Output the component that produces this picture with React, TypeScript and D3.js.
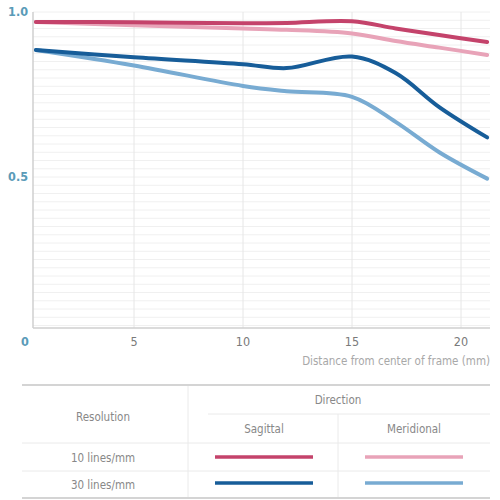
import React from "react";
import * as d3 from "d3";

// distance from center of frame (mm)
const distances = [0.5, 5, 10, 12, 15, 17, 19, 21.2];
// MTF values per series
const sagittal10 = [0.97, 0.969, 0.966, 0.967, 0.972, 0.95, 0.93, 0.909];
const meridional10 = [0.97, 0.96, 0.95, 0.946, 0.935, 0.912, 0.892, 0.87];
const sagittal30 = [0.885, 0.863, 0.842, 0.83, 0.865, 0.815, 0.712, 0.62];
const meridional30 = [0.885, 0.838, 0.776, 0.76, 0.743, 0.667, 0.575, 0.495];

const xTicks = [5, 10, 15, 20];
const yTicks = [1.0, 0.5];
const rowLabels = ["10 lines/mm", "30 lines/mm"];
const colLabels = ["Sagittal", "Meridional"];

const colors = {
  s10: "#c4436b",
  m10: "#e8a3b8",
  s30: "#175d99",
  m30: "#78abd2",
};

const series = [
  { key: "m10", values: meridional10, color: colors.m10 },
  { key: "s10", values: sagittal10, color: colors.s10 },
  { key: "m30", values: meridional30, color: colors.m30 },
  { key: "s30", values: sagittal30, color: colors.s30 },
];

const font = "'DejaVu Sans Condensed', 'Liberation Sans Narrow', sans-serif";

export default function App() {
  const plotLeft = 33;
  const plotRight = 490;
  const plotTop = 12;
  const plotBottom = 328;

  const x = d3.scaleLinear().domain([0, 21.33]).range([25, 490]);
  const y = d3.scaleLinear().domain([0, 1]).range([342, 12]);

  const line = d3
    .line<number>()
    .x((_, i) => x(distances[i]))
    .y((d) => y(d))
    .curve(d3.curveCatmullRom.alpha(0.5));

  // faint horizontal grid every 0.025
  const hGrid = d3.range(0.05, 1.0001, 0.025).filter((v) => y(v) <= plotBottom - 2);

  return (
    <svg
      width={500}
      height={500}
      style={{ position: "absolute", left: 0, top: 0, background: "#fff" }}
      fontFamily={font}
    >
      {/* grid */}
      {hGrid.map((v, i) => (
        <line key={"h" + i} x1={plotLeft} x2={plotRight} y1={y(v)} y2={y(v)} stroke="#f0f0f0" strokeWidth={1} />
      ))}
      {xTicks.map((t) => (
        <line key={"v" + t} x1={x(t)} x2={x(t)} y1={plotTop} y2={plotBottom} stroke="#e6e6e6" strokeWidth={1} />
      ))}
      {/* axes */}
      <line x1={plotLeft} x2={plotLeft} y1={plotTop} y2={plotBottom} stroke="#cfcfcf" strokeWidth={1.5} />
      <line x1={plotLeft} x2={plotRight} y1={plotBottom} y2={plotBottom} stroke="#cfcfcf" strokeWidth={1.5} />

      {/* series */}
      {series.map((s) => (
        <path key={s.key} d={line(s.values) || ""} fill="none" stroke={s.color} strokeWidth={4} strokeLinecap="round" />
      ))}

      {/* y tick labels */}
      {yTicks.map((t) => (
        <text key={"y" + t} x={28} y={y(t) + 4} textAnchor="end" fontSize={12.5} fontWeight="bold" fill="#5a9bb8">
          {t.toFixed(1)}
        </text>
      ))}
      <text x={x(0)} y={346} textAnchor="middle" fontSize={12.5} fontWeight="bold" fill="#5a9bb8">
        0
      </text>
      {xTicks.map((t) => (
        <text key={"x" + t} x={x(t)} y={346} textAnchor="middle" fontSize={12.5} fill="#7a7a7a">
          {t}
        </text>
      ))}
      <text x={plotRight} y={365} textAnchor="end" fontSize={11.5} fill="#a8a8a8">
        Distance from center of frame (mm)
      </text>

      {/* legend table */}
      <g fontSize={11.5} fill="#888">
        <line x1={22} x2={490} y1={385} y2={385} stroke="#d4d4d4" strokeWidth={2} />
        <line x1={22} x2={490} y1={498} y2={498} stroke="#d4d4d4" strokeWidth={2} />
        <line x1={188} x2={188} y1={386} y2={497} stroke="#eaeaea" strokeWidth={1} />
        <line x1={208} x2={490} y1={414} y2={414} stroke="#eaeaea" strokeWidth={1} />
        <line x1={338} x2={338} y1={414} y2={497} stroke="#eaeaea" strokeWidth={1} />
        <line x1={22} x2={490} y1={443} y2={443} stroke="#eaeaea" strokeWidth={1} />
        <line x1={22} x2={490} y1={471} y2={471} stroke="#eaeaea" strokeWidth={1} />

        <text x={338} y={404} textAnchor="middle">Direction</text>
        <text x={103} y={421} textAnchor="middle">Resolution</text>
        <text x={264} y={433} textAnchor="middle">{colLabels[0]}</text>
        <text x={414} y={433} textAnchor="middle">{colLabels[1]}</text>
        <text x={103} y={462} textAnchor="middle">{rowLabels[0]}</text>
        <text x={103} y={489} textAnchor="middle">{rowLabels[1]}</text>

        <line x1={215} x2={313} y1={457} y2={457} stroke={colors.s10} strokeWidth={3.5} />
        <line x1={365} x2={463} y1={457} y2={457} stroke={colors.m10} strokeWidth={3.5} />
        <line x1={215} x2={313} y1={483} y2={483} stroke={colors.s30} strokeWidth={3.5} />
        <line x1={365} x2={463} y1={483} y2={483} stroke={colors.m30} strokeWidth={3.5} />
      </g>
    </svg>
  );
}
